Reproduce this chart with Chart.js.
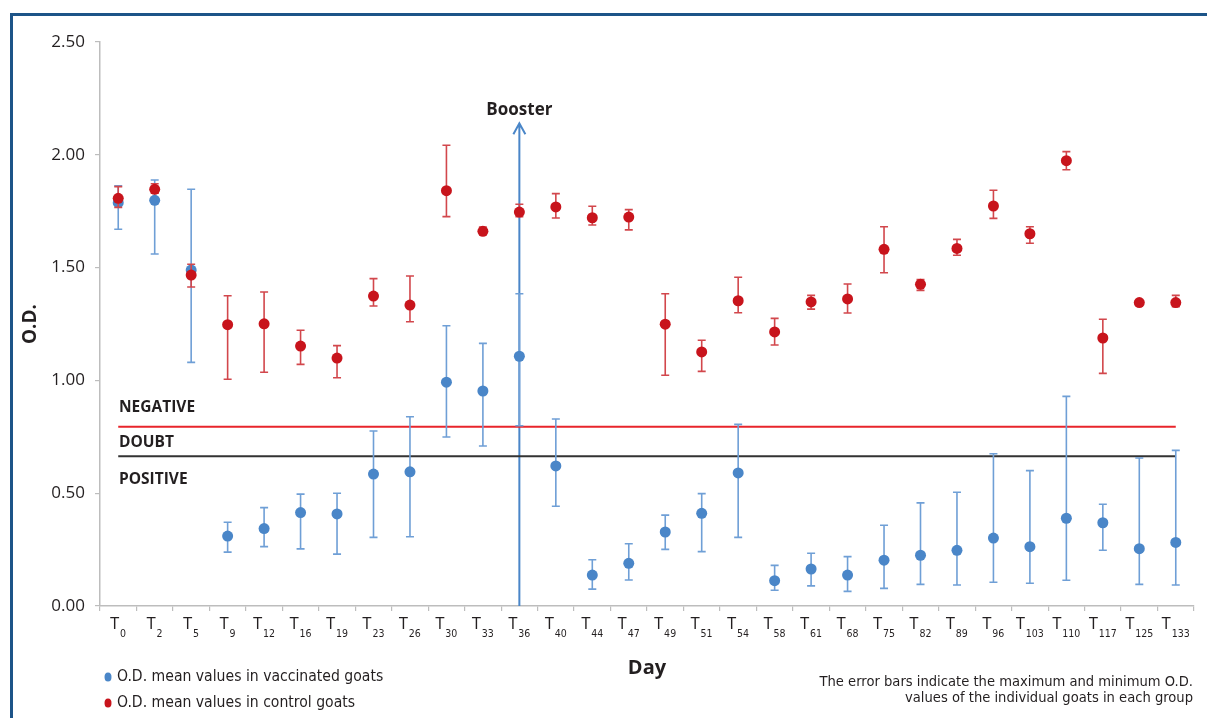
<!DOCTYPE html>
<html>
<head>
<meta charset="utf-8">
<script src="https://cdn.jsdelivr.net/npm/chart.js@4.4.1/dist/chart.umd.min.js"></script>
<style>
  html, body { margin: 0; padding: 0; background: #ffffff; }
  #wrap { position: relative; width: 1207px; height: 718px; }
  canvas { display: block; }
</style>
</head>
<body>
<div id="wrap"><canvas id="c" width="1207" height="718"></canvas></div>
<script>
// ---------------- DATA ----------------
const days = ['0','2','5','9','12','16','19','23','26','30','33','36','40','44','47','49','51','54','58','61','68','75','82','89','96','103','110','117','125','133'];
const categoryLabels = days.map(d => 'T' + d);

const vaccinatedMean = [1.788,1.798,1.489,0.310,0.343,0.414,0.408,0.585,0.595,0.992,0.953,1.107,0.621,0.137,0.189,0.328,0.411,0.590,0.112,0.164,0.137,0.203,0.225,0.247,0.301,0.263,0.389,0.369,0.254,0.282];
const vaccinatedMax  = [1.863,1.888,1.847,0.371,0.436,0.496,0.500,0.776,0.839,1.242,1.164,1.384,0.829,0.205,0.276,0.403,0.498,0.805,0.180,0.234,0.219,0.358,0.457,0.504,0.675,0.600,0.929,0.451,0.656,0.690];
const vaccinatedMin  = [1.670,1.560,1.080,0.239,0.263,0.253,0.230,0.304,0.307,0.749,0.709,0.799,0.442,0.075,0.115,0.251,0.241,0.304,0.070,0.089,0.065,0.078,0.096,0.093,0.105,0.101,0.114,0.247,0.096,0.093];

const controlMean = [1.807,1.847,1.467,1.247,1.251,1.152,1.099,1.374,1.334,1.841,1.661,1.746,1.769,1.721,1.724,1.249,1.126,1.353,1.215,1.348,1.361,1.581,1.426,1.585,1.773,1.650,1.974,1.188,1.345,1.345];
const controlMax  = [1.859,1.872,1.515,1.375,1.392,1.222,1.154,1.451,1.463,2.042,1.680,1.781,1.828,1.772,1.757,1.384,1.178,1.457,1.275,1.377,1.427,1.681,1.447,1.625,1.843,1.681,2.014,1.271,1.345,1.377];
const controlMin  = [1.767,1.830,1.414,1.005,1.036,1.071,1.012,1.330,1.260,1.726,1.652,1.726,1.720,1.689,1.667,1.023,1.040,1.300,1.157,1.316,1.299,1.477,1.399,1.555,1.718,1.608,1.934,1.031,1.345,1.327];

const negativeCutoff = 0.795;
const positiveCutoff = 0.664;
const boosterDay = 'T36';
const boosterArrowTop = 2.14;

const yTickValues = [0, 0.5, 1.0, 1.5, 2.0, 2.5];

const seriesNames = ['O.D. mean values in vaccinated goats', 'O.D. mean values in control goats'];
const noteLines = ['The error bars indicate the maximum and minimum O.D.', 'values of the individual goats in each group'];

// ---------------- STYLE ----------------
const BLUE = '#4a86c8';
const BLUE_BAR = '#6f9fd6';
const RED = '#c8141c';
const RED_BAR = '#d2474c';
const TEXT = '#231f20';
const AXIS = '#bdbdbd';
const COND = "'DejaVu Sans Condensed', 'Open Sans', sans-serif";
const SANS = "'Open Sans', 'Liberation Sans', sans-serif";

// ---------------- PLUGINS ----------------
const errorBarPlugin = {
  id: 'errorBars',
  beforeDatasetDraw(chart, args) {
    const ds = chart.data.datasets[args.index];
    if (!ds.errMax) return;
    const ctx = chart.ctx, xs = chart.scales.x, ys = chart.scales.y;
    ctx.save();
    ctx.strokeStyle = ds.barColor;
    ctx.lineWidth = 1.6;
    ds.errMax.forEach((hi, i) => {
      const lo = ds.errMin[i];
      if (Math.abs(hi - lo) < 1e-9) return;
      const x = xs.getPixelForValue(i);
      const yh = ys.getPixelForValue(hi), yl = ys.getPixelForValue(lo);
      ctx.beginPath();
      ctx.moveTo(x, yh); ctx.lineTo(x, yl);
      ctx.moveTo(x - 4, yh); ctx.lineTo(x + 4, yh);
      ctx.moveTo(x - 4, yl); ctx.lineTo(x + 4, yl);
      ctx.stroke();
    });
    ctx.restore();
  }
};

const decorPlugin = {
  id: 'decor',
  beforeDatasetsDraw(chart) {
    const ctx = chart.ctx, xs = chart.scales.x, ys = chart.scales.y;
    const bx = xs.getPixelForValue(categoryLabels.indexOf(boosterDay));
    const top = ys.getPixelForValue(boosterArrowTop);
    ctx.save();
    ctx.strokeStyle = BLUE;
    ctx.lineWidth = 2;
    ctx.beginPath();
    ctx.moveTo(bx, ys.bottom);
    ctx.lineTo(bx, top);
    ctx.moveTo(bx - 6, top + 11);
    ctx.lineTo(bx, top);
    ctx.lineTo(bx + 6, top + 11);
    ctx.stroke();
    ctx.restore();
  },
  afterDraw(chart) {
    const ctx = chart.ctx, xs = chart.scales.x, ys = chart.scales.y;
    const W = chart.width, H = chart.height;
    ctx.save();
    // frame
    ctx.fillStyle = '#1d5488';
    ctx.fillRect(10, 13, W - 10, 3);
    ctx.fillRect(10, 13, 3, H - 13);

    // x tick labels: T with subscript
    ctx.fillStyle = TEXT;
    ctx.textBaseline = 'alphabetic';
    ctx.textAlign = 'left';
    categoryLabels.forEach((lab, i) => {
      const main = lab.charAt(0), sub = lab.slice(1);
      const cx = xs.getPixelForValue(i);
      ctx.font = '16px ' + COND;
      const wm = ctx.measureText(main).width;
      ctx.font = '10.5px ' + COND;
      const wsub = ctx.measureText(sub).width;
      const total = wm + 1 + wsub;
      const x0 = cx - total / 2;
      ctx.font = '16px ' + COND;
      ctx.fillText(main, x0, 629);
      ctx.font = '10.5px ' + COND;
      ctx.fillText(sub, x0 + wm + 1, 637);
    });

    // axis titles
    ctx.font = 'bold 20px ' + SANS;
    ctx.textAlign = 'center';
    ctx.textBaseline = 'middle';
    ctx.fillText('Day', (xs.left + xs.right) / 2, 668);
    ctx.save();
    ctx.translate(31, (ys.top + ys.bottom) / 2);
    ctx.rotate(-Math.PI / 2);
    ctx.font = 'bold 19px ' + SANS;
    ctx.fillText('O.D.', 0, 0);
    ctx.restore();

    // zone labels
    ctx.font = 'bold 15.5px ' + SANS;
    ctx.textAlign = 'left';
    ctx.textBaseline = 'alphabetic';
    ctx.fillText('NEGATIVE', 119, 412);
    ctx.fillText('DOUBT', 119, 447);
    ctx.fillText('POSITIVE', 119, 484);

    // booster label
    ctx.font = 'bold 17px ' + SANS;
    ctx.textAlign = 'center';
    ctx.fillText('Booster', xs.getPixelForValue(categoryLabels.indexOf(boosterDay)), 115);

    // legend
    const legendColors = [BLUE, RED];
    const legendY = [677, 703];
    seriesNames.forEach((name, i) => {
      ctx.fillStyle = legendColors[i];
      ctx.beginPath();
      ctx.ellipse(108, legendY[i], 3.5, 4.5, 0, 0, Math.PI * 2);
      ctx.fill();
      ctx.fillStyle = TEXT;
      ctx.font = '15.6px ' + COND;
      ctx.textAlign = 'left';
      ctx.textBaseline = 'middle';
      ctx.fillText(name, 117, legendY[i]);
    });

    // note
    ctx.font = '14.6px ' + COND;
    ctx.textAlign = 'right';
    ctx.textBaseline = 'middle';
    ctx.fillText(noteLines[0], 1193, 682);
    ctx.fillText(noteLines[1], 1193, 698);
    ctx.restore();
  }
};

// ---------------- CHART ----------------
const ctx = document.getElementById('c').getContext('2d');
new Chart(ctx, {
  type: 'line',
  data: {
    labels: categoryLabels,
    datasets: [
      {
        label: seriesNames[0],
        data: vaccinatedMean,
        errMax: vaccinatedMax,
        errMin: vaccinatedMin,
        barColor: BLUE_BAR,
        showLine: false,
        pointRadius: 5.5,
        pointBackgroundColor: BLUE,
        pointBorderWidth: 0,
        borderColor: BLUE,
        order: 3
      },
      {
        label: seriesNames[1],
        data: controlMean,
        errMax: controlMax,
        errMin: controlMin,
        barColor: RED_BAR,
        showLine: false,
        pointRadius: 5.5,
        pointBackgroundColor: RED,
        pointBorderWidth: 0,
        borderColor: RED,
        order: 2
      },
      {
        label: 'Negative cut-off',
        data: [{x: categoryLabels[0], y: negativeCutoff}, {x: categoryLabels[categoryLabels.length - 1], y: negativeCutoff}],
        borderColor: '#e8252b',
        borderWidth: 2,
        pointRadius: 0,
        order: 4
      },
      {
        label: 'Positive cut-off',
        data: [{x: categoryLabels[0], y: positiveCutoff}, {x: categoryLabels[categoryLabels.length - 1], y: positiveCutoff}],
        borderColor: '#333333',
        borderWidth: 2,
        pointRadius: 0,
        order: 5
      }
    ]
  },
  options: {
    responsive: false,
    animation: false,
    devicePixelRatio: 1,
    layout: { padding: { left: 0, right: 13, top: 42, bottom: 0 } },
    plugins: { legend: { display: false }, tooltip: { enabled: false }, title: { display: false } },
    scales: {
      x: {
        type: 'category',
        offset: true,
        afterFit(scale) { scale.height = 112; },
        grid: { display: true, drawOnChartArea: false, drawTicks: true, tickLength: 5, color: AXIS, lineWidth: 1.2, offset: true },
        border: { display: true, color: AXIS, width: 1.5 },
        ticks: { display: false }
      },
      y: {
        min: 0,
        max: 2.5,
        afterFit(scale) { scale.width = 100; },
        afterBuildTicks(scale) { scale.ticks = yTickValues.map(v => ({ value: v })); },
        grid: { display: true, drawOnChartArea: false, drawTicks: true, tickLength: 5, color: AXIS, lineWidth: 1.2 },
        border: { display: true, color: AXIS, width: 1.5 },
        ticks: {
          padding: 10,
          color: TEXT,
          font: { family: SANS, size: 17 },
          callback: v => Number(v).toFixed(2)
        }
      }
    }
  },
  plugins: [errorBarPlugin, decorPlugin]
});
</script>
</body>
</html>
